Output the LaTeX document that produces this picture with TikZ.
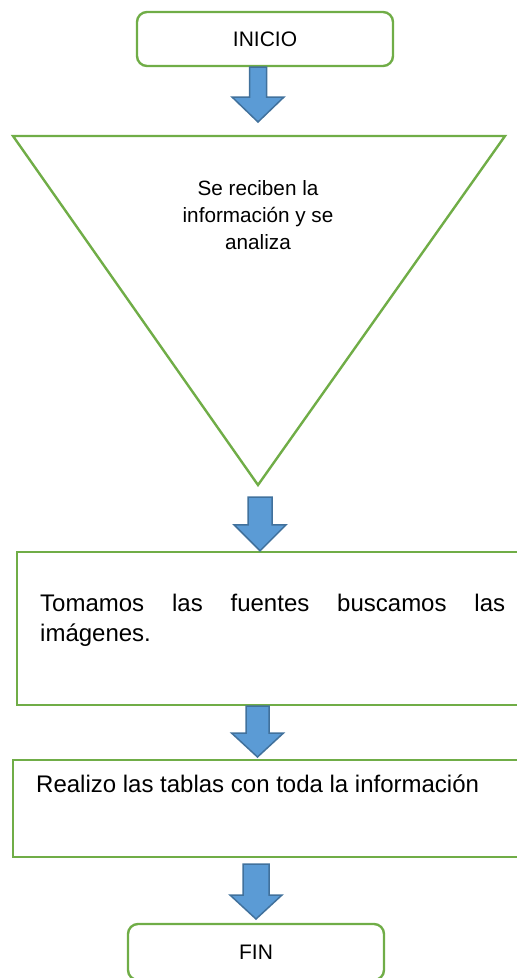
\documentclass[tikz,border=0pt]{standalone}
\usepackage{fontspec}
\setmainfont{Liberation Sans}
\usepackage{xcolor}
\usepackage{tikz}
\usetikzlibrary{calc,positioning}

\definecolor{boxgreen}{HTML}{70AD47}
\definecolor{arrowblue}{HTML}{5B9BD5}
\definecolor{arrowedge}{HTML}{41719C}

\tikzset{
  endbox/.style={draw=boxgreen, line width=2.4pt, rounded corners=10pt,
    minimum width=256pt, minimum height=54pt, inner sep=0pt,
    font=\fontsize{21}{25}\selectfont},
  stepbox/.style={draw=boxgreen, line width=2.4pt, inner sep=0pt},
  boxtext/.style={inner sep=0pt, font=\fontsize{24}{30}\selectfont},
  bluearrow/.style={fill=arrowblue, draw=arrowedge, line width=1.5pt, line join=miter}
}

% #1 start, #2 tip, #3 half shaft width, #4 head length
\newcommand{\blockarrow}[4]{%
  \draw[bluearrow] let \p1=(#1), \p2=(#2) in
    (\x2-#3,\y1) -- (\x2+#3,\y1) -- (\x2+#3,\y2+#4) -- (\x2+26pt,\y2+#4)
    -- (\x2,\y2) -- (\x2-26pt,\y2+#4) -- (\x2-#3,\y2+#4) -- cycle;}

\begin{document}
\begin{tikzpicture}[x=1pt,y=-1pt]
  \useasboundingbox (0,0) rectangle (517,978);

  \node[endbox] (inicio) at (265,39) {INICIO};

  \coordinate (tl) at (13,136);
  \coordinate (tr) at (505,136);
  \coordinate (tip) at (258,485);
  \draw[boxgreen, line width=2.4pt, line join=miter] (tl) -- (tr) -- (tip) -- cycle;
  \node[align=center, inner sep=0pt, font=\fontsize{20.7}{27}\selectfont] (analiza) at (258,215)
    {Se reciben la\\información y se\\analiza};

  \node[stepbox, minimum width=513pt, minimum height=153pt] (fuentes) at (273.5,628.5) {};
  \node[boxtext, anchor=north west, text width=465pt, align=justify] (fuentestxt) at (40,594)
    {Tomamos las fuentes buscamos las\linebreak imágenes.};

  \node[stepbox, minimum width=517pt, minimum height=97pt] (tablas) at (271.5,808.5) {};
  \node[boxtext, anchor=base west] (tablastxt) at (36,792)
    {Realizo las tablas con toda la información};

  \node[endbox, minimum height=56pt] (fin) at (256,952) {FIN};

  % flechas
  \coordinate (a1) at (258,122);
  \coordinate (a2) at (260,497);
  \coordinate (a3) at (257.5,757);
  \coordinate (a4) at (256,864);
  \coordinate (a4tip) at (256,919);
  \blockarrow{inicio.south -| a1}{a1}{8.5pt}{25pt}
  \blockarrow{a2}{fuentes.north -| a2}{12pt}{26pt}
  \blockarrow{fuentes.south -| a3}{a3}{11.5pt}{24pt}
  \blockarrow{a4}{a4tip}{13pt}{24pt}
\end{tikzpicture}
\end{document}
